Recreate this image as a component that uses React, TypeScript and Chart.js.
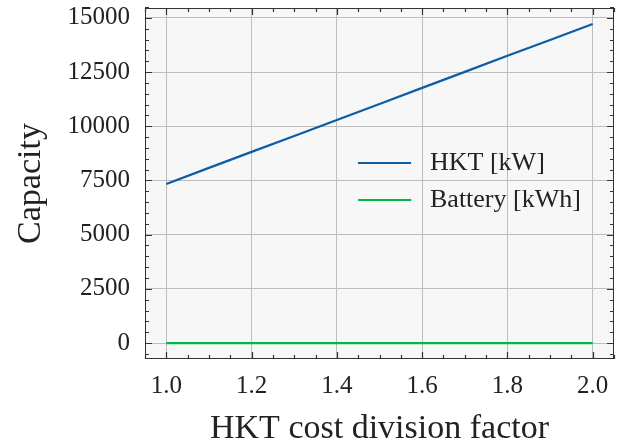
import React, { useEffect, useRef } from "react";
import { Chart, registerables } from "chart.js";

Chart.register(...registerables);

// ---- data ----
const factors = [1.0, 1.1, 1.2, 1.3, 1.4, 1.5, 1.6, 1.7, 1.8, 1.9, 2.0];
const hktKW = [7340, 8080, 8820, 9550, 10290, 11030, 11770, 12510, 13250, 13980, 14720];
const batteryKWh = [0, 0, 0, 0, 0, 0, 0, 0, 0, 0, 0];
const seriesLabels = ["HKT [kW]", "Battery [kWh]"];
const xTickValues = [1.0, 1.2, 1.4, 1.6, 1.8, 2.0];
const yTickValues = [0, 2500, 5000, 7500, 10000, 12500, 15000];
const xLabel = "HKT cost division factor";
const yLabel = "Capacity";
const xRange = [0.95, 2.05];
const yRange = [-736, 15456];

const FONT = "'Liberation Serif', 'Times New Roman', serif";
const TEXT = "#222";

const decorPlugin = {
  id: "decor",
  beforeDraw(chart: any) {
    const { ctx, chartArea: a } = chart;
    ctx.save();
    ctx.fillStyle = "#f7f7f7";
    ctx.fillRect(a.left, a.top, a.right - a.left, a.bottom - a.top);
    ctx.restore();
  },
  afterDraw(chart: any) {
    const { ctx, chartArea: a } = chart;
    const xs = chart.scales.x;
    const ys = chart.scales.y;
    ctx.save();
    // inward ticks
    ctx.strokeStyle = "#333";
    ctx.lineWidth = 1.2;
    const vTick = (v: number, len: number) => {
      const p = Math.round(xs.getPixelForValue(v)) + 0.5;
      if (p < a.left - 0.5 || p > a.right + 0.5) return;
      ctx.beginPath();
      ctx.moveTo(p, a.bottom);
      ctx.lineTo(p, a.bottom - len);
      ctx.moveTo(p, a.top);
      ctx.lineTo(p, a.top + len);
      ctx.stroke();
    };
    const hTick = (v: number, len: number) => {
      const p = Math.round(ys.getPixelForValue(v)) + 0.5;
      if (p < a.top - 0.5 || p > a.bottom + 0.5) return;
      ctx.beginPath();
      ctx.moveTo(a.left, p);
      ctx.lineTo(a.left + len, p);
      ctx.moveTo(a.right, p);
      ctx.lineTo(a.right - len, p);
      ctx.stroke();
    };
    xTickValues.forEach((v) => vTick(v, 7));
    for (let i = 19; i <= 41; i++) {
      if (i % 4 === 0) continue;
      vTick(i * 0.05, 4);
    }
    yTickValues.forEach((v) => hTick(v, 7));
    for (let i = -1; i <= 31; i++) {
      if (i % 5 === 0) continue;
      hTick(i * 500, 4);
    }
    // frame
    ctx.strokeStyle = "#333";
    ctx.lineWidth = 1;
    ctx.strokeRect(
      Math.round(a.left) + 0.5,
      Math.round(a.top) + 0.5,
      Math.round(a.right - a.left) - 1,
      Math.round(a.bottom - a.top) - 1
    );
    // legend
    const lx = a.left + 213;
    const ly = a.top + 155;
    const gap = 37;
    chart.data.datasets.forEach((ds: any, i: number) => {
      const y = ly + i * gap;
      ctx.strokeStyle = ds.borderColor;
      ctx.lineWidth = 2.2;
      ctx.beginPath();
      ctx.moveTo(lx, y);
      ctx.lineTo(lx + 53, y);
      ctx.stroke();
      ctx.fillStyle = TEXT;
      ctx.font = `26px ${FONT}`;
      ctx.textBaseline = "middle";
      ctx.textAlign = "left";
      ctx.fillText(ds.label, lx + 72, y);
    });
    ctx.restore();
  },
};

export default function App() {
  const ref = useRef<HTMLCanvasElement | null>(null);
  useEffect(() => {
    if (!ref.current) return;
    const chart = new Chart(ref.current, {
      type: "line",
      data: {
        datasets: [
          {
            label: seriesLabels[0],
            data: factors.map((x, i) => ({ x, y: hktKW[i] })),
            borderColor: "#0C5DA5",
            borderWidth: 2.2,
            pointRadius: 0,
            tension: 0,
          },
          {
            label: seriesLabels[1],
            data: factors.map((x, i) => ({ x, y: batteryKWh[i] })),
            borderColor: "#00B945",
            borderWidth: 2.2,
            pointRadius: 0,
            tension: 0,
          },
        ],
      },
      options: {
        animation: false,
        responsive: false,
        events: [],
        layout: { autoPadding: false, padding: { top: 8, right: 7, left: 0, bottom: 0 } },
        plugins: { legend: { display: false }, tooltip: { enabled: false } },
        scales: {
          x: {
            type: "linear",
            min: xRange[0],
            max: xRange[1],
            afterBuildTicks: (s: any) => {
              s.ticks = xTickValues.map((value) => ({ value }));
            },
            afterFit: (s: any) => {
              s.height = 86;
              s.paddingLeft = 0;
              s.paddingRight = 0;
            },
            grid: { color: "#bdbdbd", lineWidth: 1, drawTicks: false },
            border: { display: false },
            ticks: {
              padding: 12,
              color: TEXT,
              font: { family: FONT, size: 25 },
              maxRotation: 0,
              autoSkip: false,
              callback: (v: any) => Number(v).toFixed(1),
            },
            title: {
              display: true,
              text: xLabel,
              color: TEXT,
              font: { family: FONT, size: 34, lineHeight: 1 },
              padding: { top: 0, bottom: -1 },
            },
          },
          y: {
            type: "linear",
            min: yRange[0],
            max: yRange[1],
            afterBuildTicks: (s: any) => {
              s.ticks = yTickValues.map((value) => ({ value }));
            },
            afterFit: (s: any) => {
              s.width = 145;
              s.paddingTop = 0;
              s.paddingBottom = 0;
            },
            grid: { color: "#bdbdbd", lineWidth: 1, drawTicks: false },
            border: { display: false },
            ticks: {
              padding: 15,
              color: TEXT,
              font: { family: FONT, size: 25 },
              autoSkip: false,
              callback: (v: any) => String(Math.round(Number(v))),
            },
            title: {
              display: true,
              text: yLabel,
              color: TEXT,
              font: { family: FONT, size: 34, lineHeight: 1 },
              padding: { top: 14, bottom: 0 },
            },
          },
        },
      },
      plugins: [decorPlugin],
    } as any);
    return () => chart.destroy();
  }, []);
  return (
    <div style={{ position: "absolute", left: 0, top: 0, width: 621, height: 445, background: "#fff" }}>
      <canvas ref={ref} width={621} height={445} style={{ display: "block" }} />
    </div>
  );
}
